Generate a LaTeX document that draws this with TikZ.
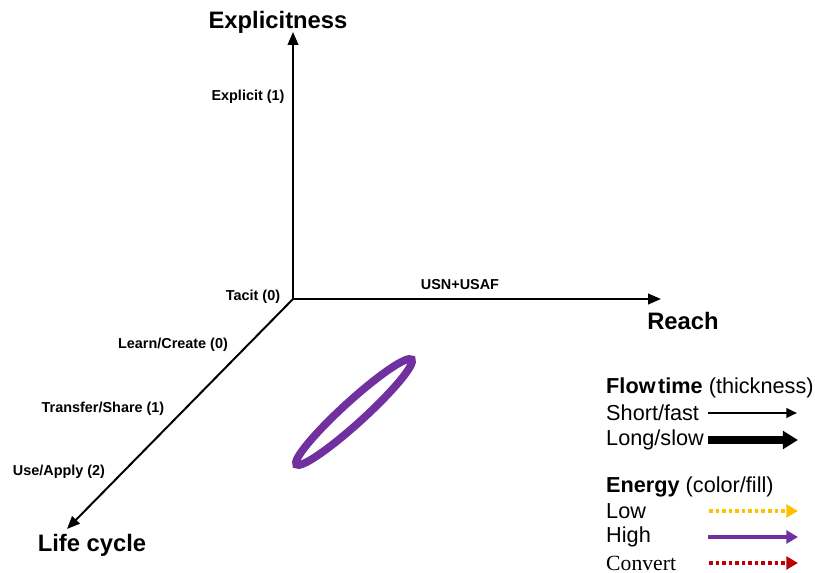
\documentclass[tikz,border=0pt]{standalone}
\usepackage{fontspec}
\setmainfont{Liberation Sans}
\newfontfamily\serifface{Liberation Serif}
\usetikzlibrary{arrows.meta}
\definecolor{lowenergy}{HTML}{FFC000}
\definecolor{highenergy}{HTML}{7030A0}
\definecolor{convertc}{HTML}{C00000}
\begin{document}
\begin{tikzpicture}[x=0.03cm,y=-0.03cm,
  axis/.style={line width=1.7pt,-{Triangle[length=11pt,width=9pt]}},
  axistitle/.style={font=\fontsize{20.3}{24}\selectfont\bfseries,inner sep=0pt},
  ticklabel/.style={font=\fontsize{12.3}{14}\selectfont\bfseries,inner sep=0pt},
  legtext/.style={font=\fontsize{18.5}{22}\selectfont,inner sep=0pt,anchor=west},
  thinflow/.style={line width=2pt,-{Triangle[length=9pt,width=8pt]}},
  thickflow/.style={line width=6pt,-{Triangle[length=13pt,width=15pt]}},
  dotflow/.style={line width=3pt,dash pattern=on 3pt off 2.6pt,-{Triangle[length=10pt,width=11pt]}}]
\useasboundingbox (0,0) rectangle (815,573);

% axes
\coordinate (O) at (293,299);
\coordinate (up) at (293,32);
\coordinate (right) at (661,299);
\coordinate (down) at (67,529);
\draw[axis] (O) -- (up);
\draw[axis] (O) -- (right);
\draw[axis] (O) -- (down);

\node[axistitle] (explicitness) at (278,22) {Explicitness};
\node[axistitle] (reach) at (683,321) {Reach};
\node[axistitle] (lifecycle) at (92,545) {Life cycle};

\node[ticklabel] (explicit) at (248,97) {Explicit (1)};
\node[ticklabel] (tacit) at (253,297) {Tacit (0)};
\node[ticklabel] (learn) at (173,345) {Learn/Create (0)};
\node[ticklabel] (transfer) at (103,409) {Transfer/Share (1)};
\node[ticklabel] (use) at (59,472) {Use/Apply (2)};
\node[ticklabel] (usn) at (460,285) {USN+USAF};

% knowledge region
\draw[highenergy,line width=6.6pt,rotate around={42.3:(354,412)}]
  (354,412) ellipse [x radius=78,y radius=11];

% legend
\node[legtext] (flowtime) at (606,388) {\textbf{Flow\hspace{0.12em}time} (thickness)};
\node[legtext] (short) at (606,413) {Short/fast};
\node[legtext] (long) at (606,440) {Long/slow};
\coordinate (s1) at (708,413); \coordinate (s2) at (797,413);
\coordinate (l1) at (708,440); \coordinate (l2) at (798,440);
\draw[thinflow] (s1) -- (s2);
\draw[thickflow] (l1) -- (l2);

\node[legtext] (energy) at (606,487) {\textbf{Energy} (color/fill)};
\node[legtext] (low) at (606,511) {Low};
\node[legtext] (high) at (606,537) {High};
\node[legtext,font=\fontsize{18.5}{22}\selectfont\serifface] (convert) at (606,563) {Convert};
\coordinate (e1) at (709,511); \coordinate (e2) at (798,511);
\coordinate (h1) at (708,537); \coordinate (h2) at (798,537);
\coordinate (c1) at (709,563); \coordinate (c2) at (798,563);
\draw[dotflow,lowenergy] (e1) -- (e2);
\draw[highenergy,line width=3pt,-{Triangle[length=10pt,width=11pt]}] (h1) -- (h2);
\draw[dotflow,convertc] (c1) -- (c2);
\end{tikzpicture}
\end{document}
